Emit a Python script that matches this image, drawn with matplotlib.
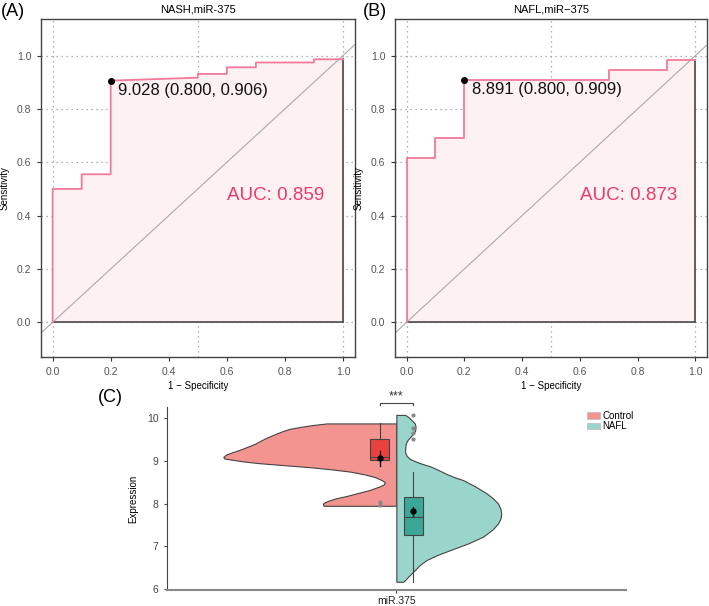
import matplotlib
matplotlib.use("Agg")
import matplotlib.pyplot as plt
from matplotlib.patches import Patch
import numpy as np

plt.rcParams['font.family'] = ['Liberation Sans', 'DejaVu Sans']

# ---- ROC data (x = 1 - specificity, y = sensitivity) ----
nash_fpr = [0, 0, 0.1, 0.1, 0.2, 0.2, 0.5, 0.5, 0.6, 0.6, 0.7, 0.7, 0.9, 0.9, 1.0]
nash_tpr = [0, 0.5, 0.5, 0.555, 0.555, 0.906, 0.917, 0.931, 0.931, 0.956, 0.956, 0.974, 0.974, 0.986, 0.986]
nafl_fpr = [0, 0, 0.1, 0.1, 0.2, 0.2, 0.7, 0.7, 0.9, 0.9, 1.0]
nafl_tpr = [0, 0.616, 0.616, 0.69, 0.69, 0.909, 0.909, 0.947, 0.947, 0.982, 0.982]
nash_best = (0.2, 0.906)
nafl_best = (0.2, 0.909)
nash_label = "9.028 (0.800, 0.906)"
nafl_label = "8.891 (0.800, 0.909)"
nash_auc = "AUC: 0.859"
nafl_auc = "AUC: 0.873"
roc_ticks = [0.0, 0.2, 0.4, 0.6, 0.8, 1.0]
grid_x = [0.0, 0.5, 1.0]
grid_y = [0.0, 0.2, 0.4, 0.6, 0.8, 1.0]

# ---- violin profiles (y level, half width) ----
ctrl_y = [9.88, 9.84, 9.80, 9.75, 9.69, 9.60, 9.52, 9.45, 9.40, 9.33, 9.26, 9.20, 9.15,
          9.10, 9.06, 9.03, 8.99, 8.95, 8.90, 8.85, 8.80, 8.75, 8.68, 8.62, 8.55, 8.50,
          8.45, 8.40, 8.32, 8.25, 8.18, 8.12, 8.06, 8.02, 7.98, 7.95]
ctrl_w = [0.182, 0.22, 0.25, 0.28, 0.30, 0.325, 0.345, 0.36, 0.37, 0.39, 0.41, 0.43, 0.445,
          0.452, 0.45, 0.43, 0.40, 0.36, 0.29, 0.22, 0.165, 0.12, 0.08, 0.055, 0.038, 0.03,
          0.033, 0.045, 0.07, 0.10, 0.13, 0.16, 0.18, 0.19, 0.192, 0.19]
nafl_y = [10.08, 10.04, 10.00, 9.94, 9.88, 9.82, 9.77, 9.71, 9.65, 9.57, 9.50, 9.44, 9.37,
          9.28, 9.20, 9.12, 9.05, 8.96, 8.87, 8.78, 8.70, 8.62, 8.55, 8.40, 8.24, 8.12,
          8.00, 7.88, 7.77, 7.65, 7.54, 7.40, 7.23, 7.07, 6.91, 6.80, 6.68, 6.56, 6.45,
          6.36, 6.29, 6.22, 6.17]
nafl_w = [0.023, 0.03, 0.035, 0.042, 0.048, 0.05, 0.05, 0.049, 0.045, 0.037, 0.03, 0.026,
          0.024, 0.023, 0.023, 0.027, 0.035, 0.058, 0.09, 0.112, 0.13, 0.152, 0.175, 0.207,
          0.236, 0.253, 0.266, 0.272, 0.274, 0.272, 0.266, 0.252, 0.227, 0.188, 0.14, 0.108,
          0.079, 0.061, 0.049, 0.039, 0.031, 0.024, 0.018]

# ---- box stats ----
ctrl_box = dict(q1=9.02, med=9.10, q3=9.52, whislo=8.88, whishi=9.88, fliers=[8.05, 7.96])
nafl_box = dict(q1=7.27, med=7.69, q3=8.15, whislo=6.17, whishi=8.75,
                fliers=[10.07, 9.78, 9.65, 9.51])
ctrl_mean = [9.08, 8.88, 9.24]
nafl_mean = [7.82, 7.70, 7.93]
groups = ["Control", "NAFL"]

W, H = 709, 606
fig = plt.figure(figsize=(W / 100, H / 100), dpi=100)


def px_axes(l, t, r, b):
    return fig.add_axes([l / W, 1 - b / H, (r - l) / W, (b - t) / H])


pink = '#F27A9B'
auc_col = '#EE3A6A'


def roc_panel(ax, fpr, tpr, best, label, auc, title):
    for g in grid_x:
        ax.axvline(g, color='#999999', lw=0.9, ls=(0, (1, 3)), zorder=0)
    for g in grid_y:
        ax.axhline(g, color='#999999', lw=0.9, ls=(0, (1, 3)), zorder=0)
    ax.fill(list(fpr) + [1, 0], list(tpr) + [0, 0], color='#FDF1F1', lw=0, zorder=1)
    ax.plot([fpr[-1], fpr[-1]], [0, tpr[-1]], color='#555555', lw=1.3, zorder=2)
    ax.plot([0, fpr[-1]], [0, 0], color='#555555', lw=1.3, zorder=2)
    ax.axline((0, 0), (1, 1), color='#AAAAAA', lw=0.8, zorder=2)
    ax.plot(fpr, tpr, color=pink, lw=1.3, zorder=3)
    ax.plot(*best, 'o', color='black', ms=4, zorder=4)
    ax.text(best[0] + 0.025, best[1] - 0.008, label, ha='left', va='top',
            fontsize=12, color='#111111')
    ax.text(0.60, 0.477, auc, ha='left', va='center', fontsize=13.5, color=auc_col)
    ax.set_xlim(-0.04, 1.04)
    ax.set_ylim(-0.13, 1.137)
    ax.set_xticks(roc_ticks)
    ax.set_yticks(roc_ticks)
    ax.set_xticklabels([f"{t:.1f}" for t in roc_ticks])
    ax.set_yticklabels([f"{t:.1f}" for t in roc_ticks])
    ax.tick_params(labelsize=7.5, labelcolor='#555555', color='#333333', length=3, width=0.8, pad=4)
    for s in ax.spines.values():
        s.set_color('#444444')
        s.set_linewidth(1.0)
    ax.set_xlabel("1 \u2212 Specificity", fontsize=7, labelpad=3)
    ax.set_ylabel("Sensitivity", fontsize=7, labelpad=5)
    ax.set_title(title, fontsize=8, pad=5)


axA = px_axes(41, 19, 354.6, 357)
roc_panel(axA, nash_fpr, nash_tpr, nash_best, nash_label, nash_auc, "NASH,miR-375")
axB = px_axes(395, 19, 707, 357)
roc_panel(axB, nafl_fpr, nafl_tpr, nafl_best, nafl_label, nafl_auc, "NAFL,miR\u2212375")

fig.text(13 / W, 1 - 12 / H, "(A)", fontsize=13, ha='center', va='center')
fig.text(375 / W, 1 - 12 / H, "(B)", fontsize=13, ha='center', va='center')
fig.text(110 / W, 1 - 398 / H, "(C)", fontsize=13, ha='center', va='center')

# ---- panel C ----
axC = px_axes(166.7, 407, 626, 590)
ctrl_col, nafl_col = '#F39490', '#9AD5CB'
ctrl_box_col, nafl_box_col = '#E8413E', '#3BA797'
cy = np.array(ctrl_y)
ny = np.array(nafl_y)
axC.fill_betweenx(cy, 1 - np.array(ctrl_w), 1, facecolor=ctrl_col, edgecolor='#444444', lw=0.8, zorder=1)
axC.fill_betweenx(ny, 1, 1 + np.array(nafl_w), facecolor=nafl_col, edgecolor='#444444', lw=0.8, zorder=1)

off = 0.044
bp = axC.bxp([ctrl_box, nafl_box], positions=[1 - off, 1 + off], widths=0.05,
             showfliers=True, patch_artist=True, showcaps=False, manage_ticks=False,
             boxprops=dict(edgecolor='#444444', lw=0.8),
             medianprops=dict(color='#444444', lw=0.8),
             whiskerprops=dict(color='#444444', lw=0.8),
             flierprops=dict(marker='o', markersize=3, markerfacecolor='#888888',
                             markeredgecolor='none'))
for patch, c in zip(bp['boxes'], [ctrl_box_col, nafl_box_col]):
    patch.set_facecolor(c)
    patch.set_zorder(2)

for pos, m in [(1 - off, ctrl_mean), (1 + off, nafl_mean)]:
    axC.plot([pos, pos], [m[1], m[2]], color='black', lw=0.9, zorder=4)
    axC.plot(pos, m[0], 'o', color='black', ms=3.5, zorder=5)

# significance bracket
axC.plot([1 - off, 1 - off, 1 + off, 1 + off], [10.31, 10.35, 10.35, 10.31],
         color='#444444', lw=0.8, clip_on=False)
axC.text(1, 10.37, "***", ha='center', va='bottom', fontsize=9, color='#333333')

axC.set_xlim(0.4, 1.6)
axC.set_ylim(5.977, 10.265)
axC.set_yticks([6, 7, 8, 9, 10])
axC.set_xticks([1])
axC.set_xticklabels(["miR.375"])
axC.tick_params(labelsize=7.5, labelcolor='#444444', color='#444444', length=2.5, width=0.8)
axC.tick_params(axis='x', labelcolor='#222222', pad=1.5)
axC.spines['top'].set_visible(False)
axC.spines['right'].set_visible(False)
axC.spines['left'].set_color('#444444')
axC.spines['left'].set_linewidth(0.8)
axC.spines['bottom'].set_color('#888888')
axC.spines['bottom'].set_linewidth(1.5)
axC.set_ylabel("Expression", fontsize=7, labelpad=6)

handles = [Patch(facecolor=ctrl_col, edgecolor='#BBBBBB', lw=0.5),
           Patch(facecolor=nafl_col, edgecolor='#BBBBBB', lw=0.5)]
fig.legend(handles, groups, loc='upper left', bbox_to_anchor=(582 / W, 1 - 406 / H),
           frameon=False, fontsize=7, handlelength=1.3, handleheight=0.7,
           labelspacing=0.05, borderpad=0, handletextpad=0.3)

fig.savefig("out.png", dpi=100)
